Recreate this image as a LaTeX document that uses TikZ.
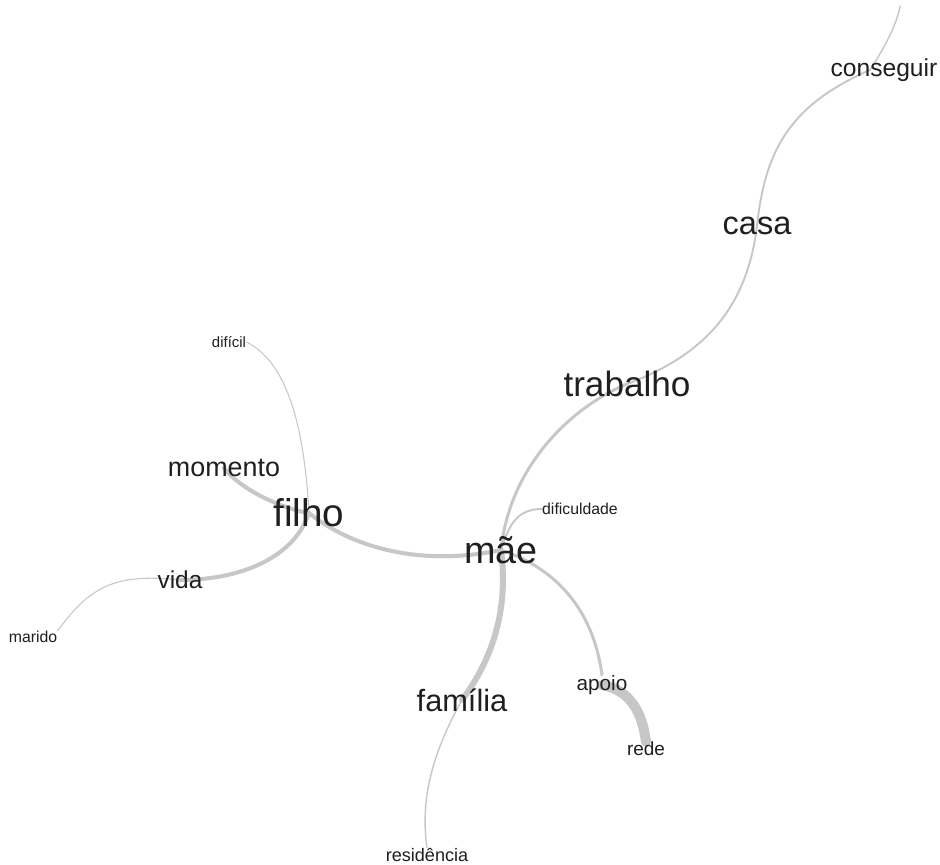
\documentclass[tikz,border=0pt]{standalone}
\usepackage{fontspec}
\setmainfont{Liberation Sans}
\usetikzlibrary{backgrounds}

\begin{document}
\begin{tikzpicture}[x=0.02cm, y=-0.02cm,
                    word/.style={inner sep=0pt, text=black!88,
                                 font=\fontsize{#1}{#1}\selectfont},
                    link/.style={draw=black!22, line cap=round, line width=#1}]

  \useasboundingbox (0,0) rectangle (940,865);

  % words
  \node[word=21.5pt] (mae)         at (501,550) {mãe};
  \node[word=22pt]   (filho)       at (309,513) {filho};
  \node[word=20pt]   (trabalho)    at (627,384) {trabalho};
  \node[word=18.5pt] (casa)        at (757,226) {casa};
  \node[word=14pt]   (conseguir)   at (884,70)  {conseguir};
  \node[word=15.3pt] (momento)     at (224,468) {momento};
  \node[word=8.5pt]  (dificil)     at (229,342) {difícil};
  \node[word=13.9pt] (vida)        at (180,580) {vida};
  \node[word=9pt]    (marido)      at (33,637)  {marido};
  \node[word=9pt]    (dificuldade) at (580,509) {dificuldade};
  \node[word=17.5pt] (familia)     at (462,700) {família};
  \node[word=10.3pt] (residencia)  at (427,855) {residência};
  \node[word=11.8pt] (apoio)       at (602,685) {apoio};
  \node[word=10.8pt] (rede)        at (646,749) {rede};
  \coordinate (topend) at (900,6);

  % links
  \begin{scope}[on background layer]
    \fill[white] (0,0) rectangle (940,865);
    \draw[link=1.7pt] (mae.center) .. controls +(8,-80) and +(-60,25) .. (trabalho.center);
    \draw[link=1.1pt] (trabalho.center) .. controls +(80,-30) and +(-10,80) .. (casa.center);
    \draw[link=1.1pt] (casa.center) .. controls +(8,-76) and +(-80,35) .. ([xshift=-8]conseguir.center);
    \draw[link=0.8pt] ([xshift=-8]conseguir.center) .. controls +(10,-15) and +(-3,20) .. (topend);
    \draw[link=2.3pt] (filho.center) .. controls +(50,40) and +(-70,15) .. (mae.center);
    \draw[link=2.3pt] (momento.center) .. controls +(15,20) and +(-30,-5) .. (filho.center);
    \draw[link=0.6pt] (dificil.east) .. controls +(40,20) and +(-5,-90) .. (filho.center);
    \draw[link=2.3pt] (filho.center) .. controls +(-15,45) and +(60,0) .. (vida.center);
    \draw[link=0.6pt] (vida.center) .. controls +(-70,-8) and +(30,-40) .. (marido.north east);
    \draw[link=1.1pt] (mae.center) .. controls +(8,-25) and +(-25,0) .. (dificuldade.west);
    \draw[link=3.4pt] (mae.center) .. controls +(8,60) and +(30,-40) .. (familia.center);
    \draw[link=0.8pt] (familia.center) .. controls +(-25,45) and +(-8,-55) .. (residencia.north);
    \draw[link=1.7pt] (mae.center) .. controls +(60,20) and +(-8,-60) .. (apoio.north);
    \draw[link=5.7pt] (apoio.center) .. controls +(28,5) and +(-4,-30) .. (rede.north);
  \end{scope}
\end{tikzpicture}
\end{document}
